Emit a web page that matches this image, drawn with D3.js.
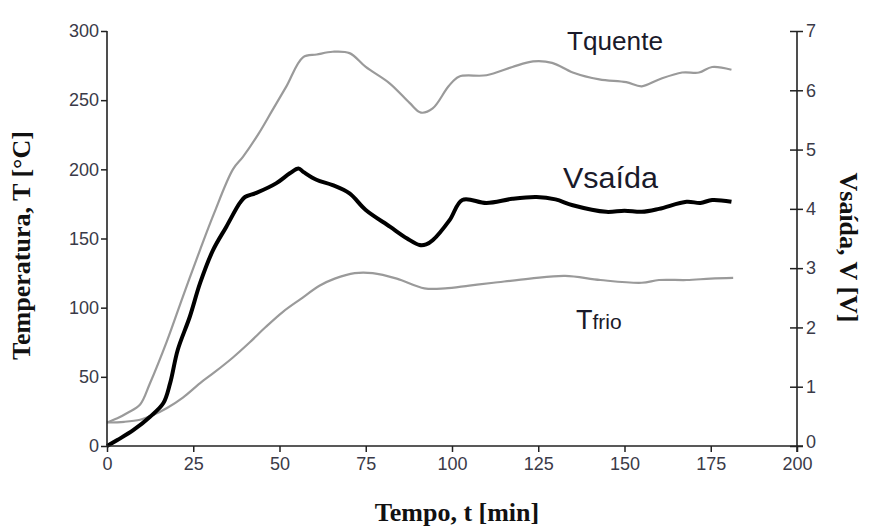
<!DOCTYPE html>
<html>
<head>
<meta charset="utf-8">
<script src="https://cdn.jsdelivr.net/npm/d3@7"></script>
<style>
  body { margin: 0; background: #fff; }
  .tick text { font-family: "Liberation Sans", Arial, sans-serif; fill: #3a3a48; }
</style>
</head>
<body>
<div id="chart"></div>
<script>
// data
var tQuenteTime = [0, 3, 6, 9.6, 12.4, 17.4, 22, 27, 31, 36.5, 39.4, 44, 48, 52, 56.8, 60.8, 65.4, 70.3, 75, 82, 87.7, 91, 94.4, 99, 102, 110, 117.5, 123.5, 129, 135, 142.7, 150.5, 155, 160, 166.7, 171.6, 175.4, 181];
var tQuente     = [17, 20, 24, 30, 45, 76, 108, 142, 168, 200, 209, 226, 243, 260, 281, 283, 285, 284, 274, 262, 248, 241, 244, 260, 267, 268, 274, 278, 277, 270, 265, 263, 260, 265, 270, 270, 274, 272];

var tFrioTime = [0, 5, 9.6, 13, 17.4, 22, 27, 31, 36.5, 41.4, 46, 51, 56, 61.7, 66, 71.8, 77, 84, 92, 98, 105, 112, 122.6, 132.8, 143, 155, 160, 168, 175, 181.5];
var tFrio     = [17, 17.5, 19, 22, 27.5, 35, 45.5, 53, 64, 75, 86, 97, 106, 116, 121, 125, 125, 121, 114, 114, 116, 118, 121, 123, 120, 118, 120, 120, 121, 121.5];

var vSaidaTime = [0, 3, 7.7, 12.4, 16.3, 18.3, 20.5, 24, 27, 30.7, 34.6, 38.5, 40, 43.3, 49, 53, 55.5, 57, 60.7, 65.4, 70.3, 75, 82, 87, 90.6, 92.5, 94.4, 99.3, 103, 110, 117.5, 124.5, 130, 135, 144.7, 150, 155, 160, 168, 172, 175.4, 181];
var vSaida     = [0, 0.1, 0.27, 0.49, 0.72, 1.06, 1.62, 2.18, 2.75, 3.3, 3.7, 4.1, 4.2, 4.27, 4.43, 4.6, 4.68, 4.62, 4.49, 4.4, 4.26, 3.98, 3.7, 3.5, 3.39, 3.4, 3.47, 3.81, 4.15, 4.1, 4.17, 4.2, 4.16, 4.06, 3.95, 3.97, 3.95, 4.0, 4.12, 4.1, 4.15, 4.12];

var xTicks = [0, 25, 50, 75, 100, 125, 150, 175, 200];
var tTicks = [0, 50, 100, 150, 200, 250, 300];
var vTicks = [0, 1, 2, 3, 4, 5, 6, 7];

var margin = {top: 31, right: 72, bottom: 82, left: 107},
    width = 869 - margin.left - margin.right,
    height = 528 - margin.top - margin.bottom;

var svg = d3.select("#chart")
  .append("svg")
    .attr("width", 869)
    .attr("height", 528)
  .append("g")
    .attr("transform", "translate(" + margin.left + "," + margin.top + ")");

var x = d3.scaleLinear().domain([0, 200]).range([0, width]);
var yT = d3.scaleLinear().domain([0, 300]).range([height, 0]);
var yV = d3.scaleLinear().domain([0, 7]).range([height, 0]);

// lines
function series(times, vals) {
  return times.map(function(t, i) { return [t, vals[i]]; });
}
var lineT = d3.line()
  .x(function(d) { return x(d[0]); })
  .y(function(d) { return yT(d[1]); })
  .curve(d3.curveCatmullRom);
var lineV = d3.line()
  .x(function(d) { return x(d[0]); })
  .y(function(d) { return yV(d[1]); })
  .curve(d3.curveCatmullRom);

svg.append("path")
  .datum(series(tQuenteTime, tQuente))
  .attr("d", lineT)
  .attr("fill", "none")
  .attr("stroke", "#9a9a9a")
  .attr("stroke-width", 2.2);

svg.append("path")
  .datum(series(tFrioTime, tFrio))
  .attr("d", lineT)
  .attr("fill", "none")
  .attr("stroke", "#9a9a9a")
  .attr("stroke-width", 2.2);

svg.append("path")
  .datum(series(vSaidaTime, vSaida))
  .attr("d", lineV)
  .attr("fill", "none")
  .attr("stroke", "#000")
  .attr("stroke-width", 4)
  .attr("stroke-linejoin", "round");

// axes
var xAxis = svg.append("g")
  .attr("transform", "translate(0," + height + ")")
  .call(d3.axisBottom(x).tickValues(xTicks).tickSize(6).tickPadding(5));

var leftAxis = svg.append("g")
  .call(d3.axisLeft(yT).tickValues(tTicks).tickSize(6).tickPadding(2));

var rightAxis = svg.append("g")
  .attr("transform", "translate(" + width + ",0)")
  .call(d3.axisRight(yV).tickValues(vTicks).tickFormat(d3.format("d")).tickSize(6).tickPadding(3));

// right axis ticks cross the line
rightAxis.selectAll(".tick line").attr("x1", -7);
// lift the right "0" a little so it clears the "200" below it
rightAxis.selectAll(".tick text").filter(function(d) { return d === 0; }).attr("dy", "0.1em");

[xAxis, leftAxis, rightAxis].forEach(function(a) {
  a.select(".domain").attr("stroke", "#222").attr("stroke-width", 1.6);
  a.selectAll(".tick line").attr("stroke", "#222").attr("stroke-width", 1.5);
  a.selectAll(".tick text").style("font-size", "18px");
});
xAxis.select(".domain").attr("d", "M0,0H" + (width + 6));
leftAxis.select(".domain").attr("d", "M0," + height + "V0");
rightAxis.select(".domain").attr("d", "M0," + (height + 6) + "V0");

// axis titles
var serif = "'Liberation Serif', 'Times New Roman', serif";
svg.append("text")
  .attr("transform", "translate(" + (-77) + "," + (height / 2 + 7) + ")rotate(-90)")
  .attr("text-anchor", "middle")
  .style("font-family", serif)
  .style("font-weight", "bold")
  .style("font-size", "26px")
  .attr("fill", "#111")
  .text("Temperatura, T [°C]");

svg.append("text")
  .attr("transform", "translate(" + (width + 43) + "," + (height / 2 + 9) + ")rotate(90)")
  .attr("text-anchor", "middle")
  .style("font-family", serif)
  .style("font-weight", "bold")
  .style("font-size", "26px")
  .attr("fill", "#111")
  .text("Vsaída, V [V]");

svg.append("text")
  .attr("x", width / 2 + 5)
  .attr("y", height + 75)
  .attr("text-anchor", "middle")
  .style("font-family", serif)
  .style("font-weight", "bold")
  .style("font-size", "26px")
  .attr("fill", "#111")
  .text("Tempo, t [min]");

// curve labels
var lab = svg.append("g")
  .style("font-family", "'Liberation Sans', Arial, sans-serif")
  .attr("fill", "#1a1a2a");

lab.append("text")
  .attr("x", 567 - margin.left)
  .attr("y", 50 - margin.top)
  .style("font-size", "25px")
  .attr("textLength", 96)
  .attr("lengthAdjust", "spacingAndGlyphs")
  .text("Tquente");

lab.append("text")
  .attr("x", 563 - margin.left)
  .attr("y", 188 - margin.top)
  .style("font-size", "29px")
  .attr("textLength", 95)
  .attr("lengthAdjust", "spacingAndGlyphs")
  .text("Vsaída");

var fr = lab.append("text")
  .attr("x", 576 - margin.left)
  .attr("y", 329 - margin.top);
fr.append("tspan").style("font-size", "27px").text("T");
fr.append("tspan").style("font-size", "21px").text("frio");
</script>
</body>
</html>
